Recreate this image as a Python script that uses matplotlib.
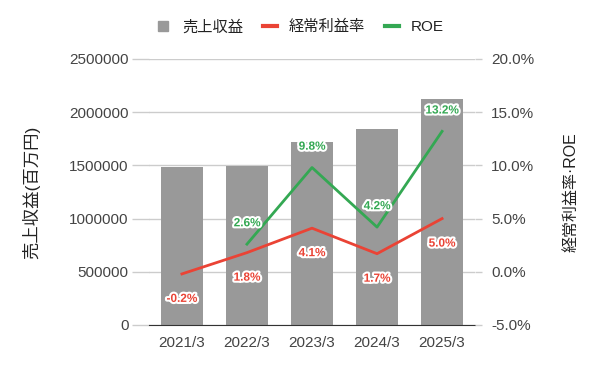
import matplotlib
matplotlib.use("Agg")
import matplotlib.pyplot as plt
import matplotlib.patheffects as pe
from matplotlib.lines import Line2D
from matplotlib.ticker import FuncFormatter
import numpy as np

plt.rcParams['font.family'] = ['Liberation Sans', 'Noto Sans CJK JP', 'DejaVu Sans']

categories = ["2021/3", "2022/3", "2023/3", "2024/3", "2025/3"]
revenue = [1485000, 1497000, 1720000, 1842000, 2124000]
margin = [-0.2, 1.8, 4.1, 1.7, 5.0]
roe = [np.nan, 2.6, 9.8, 4.2, 13.2]

BAR = "#999999"
RED = "#ea4335"
GREEN = "#34a853"
TICK = "#444444"

fig = plt.figure(figsize=(6, 3.71), dpi=100)
ax = fig.add_axes([0.249, 0.124, 0.542, 0.717])
ax2 = ax.twinx()

x = np.arange(len(categories))
ax.bar(x, revenue, width=0.65, color=BAR, zorder=2)
ax.set_xlim(-0.5, len(categories) - 0.5)
ax.set_ylim(0, 2500000)
ax.set_yticks(np.arange(0, 2500001, 500000))
ax.yaxis.set_major_formatter(FuncFormatter(lambda v, p: f"{int(v)}"))
ax.set_xticks(x)
ax.set_xticklabels(categories)
ax.grid(axis='y', color="#cccccc", linewidth=1, zorder=0)
ax.set_axisbelow(True)

ax2.set_ylim(-5, 20)
ax2.set_yticks(np.arange(-5, 20.1, 5))
ax2.yaxis.set_major_formatter(FuncFormatter(lambda v, p: f"{v:.1f}%"))

ax2.plot(x, margin, color=RED, linewidth=2, zorder=3)
ax2.plot(x, roe, color=GREEN, linewidth=2, zorder=3)

halo = [pe.withStroke(linewidth=3, foreground="white")]
for xi, v in zip(x, margin):
    ax2.annotate(f"{v:.1f}%", (xi, v), xytext=(0, -18), textcoords="offset points",
                 ha="center", va="center", fontsize=8.5, fontweight="bold",
                 color=RED, path_effects=halo, zorder=5)
for xi, v in zip(x, roe):
    if np.isnan(v):
        continue
    ax2.annotate(f"{v:.1f}%", (xi, v), xytext=(0, 15), textcoords="offset points",
                 ha="center", va="center", fontsize=8.5, fontweight="bold",
                 color=GREEN, path_effects=halo, zorder=5)

for a in (ax, ax2):
    for s in a.spines.values():
        s.set_visible(False)
    a.tick_params(axis='both', colors="#cccccc", labelcolor=TICK, labelsize=11, length=0)
ax.spines['bottom'].set_visible(True)
ax.spines['bottom'].set_color("#333333")
ax.tick_params(axis='y', length=12, width=1, color="#cccccc", pad=3)
ax2.tick_params(axis='y', length=5, width=1, color="#cccccc", pad=7)
ax.tick_params(axis='x', pad=8)

ax.set_ylabel("売上収益(百万円)", fontsize=12.5, color="#222222", labelpad=21)
ax2.set_ylabel("経常利益率\u00b7ROE", fontsize=11.5, color="#222222", labelpad=21)

handles = [Line2D([0], [0], marker='s', markersize=7.5, color=BAR, linestyle='none'),
           Line2D([0], [0], color=RED, linewidth=3),
           Line2D([0], [0], color=GREEN, linewidth=3)]
fig.legend(handles, ["売上収益", "経常利益率", "ROE"], loc="center",
           bbox_to_anchor=(0.5, 0.927), ncol=3, frameon=False, fontsize=11,
           handlelength=0.9, columnspacing=1.3, handletextpad=0.8,
           labelcolor="#222222")

fig.savefig("out.png", dpi=100)
